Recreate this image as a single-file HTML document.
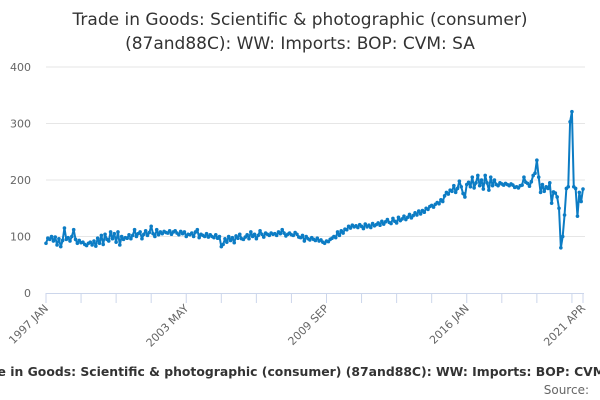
<!DOCTYPE html>
<html><head><meta charset="utf-8"><style>
body{margin:0;background:#fff;font-family:"Liberation Sans","DejaVu Sans",sans-serif;}
svg{display:block}
</style></head><body>
<svg id="chart" width="600" height="400" font-family="DejaVu Sans, Liberation Sans, sans-serif">
<text x="300" y="25" text-anchor="middle" font-size="17" fill="#333">Trade in Goods: Scientific &amp; photographic (consumer)</text>
<text x="300" y="49" text-anchor="middle" font-size="17" fill="#333">(87and88C): WW: Imports: BOP: CVM: SA</text>
<g id="grid"></g><g id="xaxis"></g><g id="series"></g>
<text x="300" y="376" text-anchor="middle" font-size="12.4" font-weight="bold" fill="#333">Trade in Goods: Scientific &amp; photographic (consumer) (87and88C): WW: Imports: BOP: CVM: SA</text>
<text x="589" y="394" text-anchor="end" font-size="12" fill="#666">Source:</text>
</svg>
<script>
const yTicks=[0,100,200,300,400];
const xLabels=["1997 JAN","2003 MAY","2009 SEP","2016 JAN","2021 APR"];
const xLabelIdx=[0,76,152,228,291];
const values=[
88,97,95,100,92,99,85,96,82,93,115,95,
98,92,100,112,95,88,93,89,90,86,84,88,
90,85,92,83,97,88,102,86,104,95,92,108,
96,105,90,108,85,100,95,98,97,103,96,102,
112,100,105,108,96,104,110,102,107,118,105,100,
112,103,108,105,109,107,106,110,104,108,110,106,
103,109,105,108,100,104,103,106,100,108,112,98,
104,102,100,105,99,103,100,98,103,97,100,82,
86,96,90,100,93,98,89,101,97,104,96,95,
99,103,96,108,100,104,96,102,110,104,99,106,
104,102,106,104,105,102,108,105,112,106,101,104,
106,103,102,107,104,99,98,102,92,100,96,94,
98,95,93,97,92,94,90,88,92,91,95,97,
100,98,108,102,110,106,113,112,118,115,120,117,
119,116,121,118,114,122,117,120,116,123,119,121,
124,120,127,122,126,130,125,123,132,127,124,134,
128,131,136,130,134,139,133,137,142,138,145,140,
146,143,150,148,153,155,152,157,160,158,165,162,
172,178,175,182,180,190,178,185,198,188,176,170,
192,196,188,205,186,195,208,190,200,184,208,195,
182,205,190,200,192,190,195,193,191,194,192,190,
193,191,187,188,186,190,191,205,196,194,189,197,
208,212,235,205,178,192,180,188,185,195,159,179,
177,170,150,80,100,138,185,188,303,321,188,185,
136,178,162,184];
const X0=46,X1=583,Y0=293,Y1=67;
const xs=i=>X0+i*(X1-X0)/(values.length-1);
const ys=v=>Y0-(v/400)*(Y0-Y1);
const NS="http://www.w3.org/2000/svg";
function mk(t,a,p){const e=document.createElementNS(NS,t);for(const k in a)e.setAttribute(k,a[k]);p.appendChild(e);return e;}
const grid=document.getElementById('grid');
yTicks.forEach(v=>{
 if(v>0){const l=mk('line',{x1:X0,x2:X1+2,y1:ys(v),y2:ys(v),stroke:'#e6e6e6'},grid);
 
 }
 const t=mk('text',{x:31,y:ys(v)+4,'text-anchor':'end','font-size':11,fill:'#666'},grid);t.textContent=v;
 
 
});
const xa=document.getElementById('xaxis');
const al=mk('line',{x1:X0,x2:X1+1,y1:Y0+0.5,y2:Y0+0.5,stroke:'#ccd6eb'},xa);


const step=19*(X1-X0)/(values.length-1);
for(let x=X0;x<=X1+1;x+=step){mk('line',{x1:x,x2:x,y1:Y0,y2:Y0+10,stroke:'#ccd6eb'},xa);}
mk('line',{x1:X1,x2:X1,y1:Y0,y2:Y0+10,stroke:'#ccd6eb'},xa);
xLabels.forEach((s,k)=>{const x=xs(xLabelIdx[k]);
 const t=mk('text',{x:x+3,y:Y0+16,'text-anchor':'end','font-size':11,fill:'#666',transform:`rotate(-45 ${x+3} ${Y0+16})`},xa);t.textContent=s;
 
 });
const sg=document.getElementById('series');
const p=mk('path',{d:values.map((v,i)=>(i?'L':'M')+xs(i).toFixed(2)+','+ys(v).toFixed(2)).join(''),fill:'none',stroke:'#0c7cc4','stroke-width':2,'stroke-linejoin':'round'},sg);


values.forEach((v,i)=>{const c=mk('circle',{cx:xs(i),cy:ys(v),r:1.8,fill:'#0c7cc4'},sg);
 
 });
</script>
</body></html>
